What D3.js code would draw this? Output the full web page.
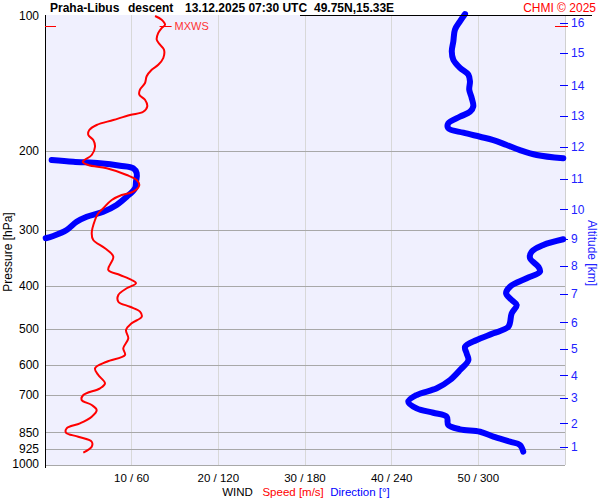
<!DOCTYPE html>
<html><head><meta charset="utf-8">
<script src="https://cdn.jsdelivr.net/npm/d3@7"></script>
<style>body{margin:0;background:#fff}svg{display:block;font-family:"Liberation Sans",Arial,sans-serif}</style>
</head><body><svg id="c" width="600" height="500"></svg>
<script>
// ---- data ----
const titleParts = ["Praha-Libus", "descent", "13.12.2025 07:30 UTC", "49.75N,15.33E"];
const credit = "CHMI \u00a9 2025";
const pressureTicks = [100, 200, 300, 400, 500, 600, 700, 850, 925, 1000];
const speedTicks = [10, 20, 30, 40, 50];
const directionTicks = [60, 120, 180, 240, 300];
const altitudeKm = [1, 2, 3, 4, 5, 6, 7, 8, 9, 10, 11, 12, 13, 14, 15, 16];
const altitudePressure = [917.6, 811.4, 713.4, 633.9, 553.9, 482.8, 418.0, 361.4, 314.6, 270.1, 231.1, 196.1, 167.4, 142.8, 121.1, 103.5];
const mxwsPressure = 105.3;
const mxwsSpeed = 13.8;
// wind speed profile (hPa, m/s)
const speedPressure = [100, 101.9, 104.6, 106.4, 109.1, 112.9, 115.9, 118.9, 124.1, 128.5, 131.8, 136.3, 141.1, 146.0, 149.8, 153.8, 159.1, 163.6, 166.3, 170.7, 175.1, 179.7, 184.4, 189.2, 195.8, 204.3, 211.5, 215.1, 218.8, 226.4, 232.3, 238.4, 246.7, 250.9, 257.4, 268.6, 275.6, 285.3, 305.5, 316.2, 330.0, 344.5, 368.9, 378.5, 388.4, 395.0, 405.3, 419.5, 434.2, 445.6, 457.1, 469.1, 485.3, 502.3, 524.2, 551.8, 571.2, 591.2, 611.6, 632.9, 660.6, 677.7, 701.5, 719.7, 738.5, 757.8, 784.2, 811.4, 832.5, 851.5, 869.0, 891.8, 914.9, 943.6];
const speedValues = [12.7, 13.46, 13.85, 13.46, 13.07, 12.89, 13.27, 13.73, 13.65, 13.07, 12.31, 11.73, 11.54, 10.96, 10.88, 11.54, 11.8, 11.34, 9.81, 7.88, 5.96, 5.11, 5.0, 5.57, 5.77, 5.39, 4.35, 5.0, 7.12, 9.43, 10.58, 10.88, 10.19, 8.85, 7.7, 6.73, 6.15, 5.77, 5.39, 5.57, 6.92, 7.88, 7.3, 8.65, 10.0, 10.5, 9.43, 8.46, 8.46, 9.81, 10.96, 11.16, 10.0, 9.35, 9.61, 9.03, 9.23, 7.12, 5.77, 6.15, 6.92, 6.35, 4.42, 4.23, 5.39, 5.96, 5.39, 4.04, 2.5, 2.42, 3.84, 5.39, 5.39, 4.42];
// wind direction profile (hPa, degrees)
const dirPressure = [99, 102.8, 107.3, 113.9, 119.9, 125.2, 130.6, 135.2, 139.9, 146.0, 152.4, 159.1, 163.6, 167.8, 173.6, 178.1, 182.2, 186.0, 189.2, 194.1, 199.2, 204.3, 207.8, 209.6, 211.5, 213.2, 215.9, 218.8, 224.4, 234.4, 242.5, 253.1, 264.1, 273.4, 280.5, 287.9, 300.4, 309.8, 313.4, 315.0, 324.4, 335.8, 347.4, 362.7, 372.2, 385.0, 402.0, 415.9, 430.5, 441.7, 460.9, 493.8, 510.9, 528.7, 547.3, 566.3, 586.1, 617.0, 649.4, 677.7, 701.5, 726.1, 751.2, 768.4, 784.2, 818.4, 836.7, 847.2, 869.0, 891.8, 907.0, 938.6];
const dirValues = [290.8, 287.3, 283.8, 282.7, 281.6, 282.7, 287.3, 293.1, 294.2, 293.7, 295.4, 296.5, 294.2, 287.3, 279.2, 279.2, 289.6, 301.2, 310.4, 319.6, 328.8, 340.4, 358.8, 4.6, 19.6, 38.1, 51.9, 61.1, 63.5, 63.0, 62.3, 56.6, 49.6, 40.4, 28.9, 21.9, 15.0, 5.7, 0.5, 358.8, 345.0, 336.9, 335.8, 341.5, 342.7, 333.5, 321.9, 319.2, 323.1, 326.6, 323.1, 320.8, 310.4, 298.9, 290.8, 291.9, 293.1, 287.3, 280.4, 271.2, 257.3, 251.5, 257.3, 268.8, 278.1, 279.2, 287.3, 301.2, 310.4, 321.9, 328.8, 331.1];

// ---- layout ----
const svg = d3.select("#c");
const L = 45, R = 565, T = 15, B = 465;
const y = d3.scaleLog().domain([100, 1000]).range([16, 464]);
const xs = d3.scaleLinear().domain([0, 60]).range([L, R]);
const xd = d3.scaleLinear().domain([0, 360]).range([L, R]);

svg.append("rect").attr("x", L).attr("y", T).attr("width", R - L).attr("height", B - T).attr("fill", "#f0f0fe");

// vertical grid
svg.selectAll(".vg").data(speedTicks).join("line")
  .attr("x1", d => xs(d)).attr("x2", d => xs(d)).attr("y1", T).attr("y2", B)
  .attr("stroke", "#d8d8d8").attr("stroke-width", 1).attr("shape-rendering", "crispEdges");
svg.append("line").attr("x1", R).attr("x2", R).attr("y1", T).attr("y2", B)
  .attr("stroke", "#d0d0d0").attr("shape-rendering", "crispEdges");

// horizontal pressure grid
svg.selectAll(".hg").data(pressureTicks.filter(p => p > 100 && p < 1000)).join("line")
  .attr("x1", L).attr("x2", R).attr("y1", d => Math.round(y(d)) + 0.5).attr("y2", d => Math.round(y(d)) + 0.5)
  .attr("stroke", "#a8a8a8").attr("stroke-width", 1);
svg.append("line").attr("x1", L).attr("x2", R).attr("y1", B + 0.5).attr("y2", B + 0.5).attr("stroke", "#a8a8a8");

// pressure labels
svg.selectAll(".pl").data(pressureTicks).join("text")
  .attr("x", 39).attr("y", d => y(d)).attr("dy", "0.35em").attr("text-anchor", "end")
  .attr("font-size", 12).attr("fill", "#000").text(d => d);
svg.append("text").attr("transform", "translate(12,252) rotate(-90)").attr("text-anchor", "middle")
  .attr("font-size", 12).text("Pressure [hPa]");

// bottom labels
svg.selectAll(".bl").data(speedTicks).join("text")
  .attr("x", d => xs(d)).attr("y", 482).attr("text-anchor", "middle").attr("font-size", 11.5)
  .text((d, i) => d + " / " + directionTicks[i]);
const leg = svg.append("text").attr("x", 306).attr("y", 496).attr("text-anchor", "middle").attr("font-size", 11.5).style("white-space", "pre");
leg.append("tspan").attr("fill", "#000").text("WIND   ");
leg.append("tspan").attr("fill", "#ff0000").text("Speed [m/s]  ");
leg.append("tspan").attr("fill", "#0000ff").text("Direction [\u00b0]");

// altitude axis
svg.selectAll(".at").data(altitudePressure).join("line")
  .attr("x1", 560).attr("x2", 568).attr("y1", d => Math.round(y(d)) + 0.5).attr("y2", d => Math.round(y(d)) + 0.5)
  .attr("stroke", "#0000ff");
svg.selectAll(".al").data(altitudePressure).join("text")
  .attr("x", 571).attr("y", d => y(d)).attr("dy", "0.35em").attr("font-size", 12).attr("fill", "#2222ff")
  .text((d, i) => altitudeKm[i]);
svg.append("text").attr("transform", "translate(588,253) rotate(90)").attr("text-anchor", "middle")
  .attr("font-size", 12).attr("fill", "#2222ff").text("Altitude [km]");

// left axis
svg.append("line").attr("x1", L + 0.5).attr("x2", L + 0.5).attr("y1", T).attr("y2", B + 3).attr("stroke", "#000");

// direction line (split at wrap-around)
const dirPts = dirPressure.map((p, i) => [dirValues[i], p]);
const segs = [[dirPts[0]]];
for (let i = 1; i < dirPts.length; i++) {
  if (Math.abs(dirPts[i][0] - dirPts[i - 1][0]) > 180) segs.push([]);
  segs[segs.length - 1].push(dirPts[i]);
}
const dline = d3.line().x(d => xd(d[0])).y(d => y(d[1])).curve(d3.curveCatmullRom);
svg.selectAll(".dir").data(segs).join("path").attr("d", dline)
  .attr("fill", "none").attr("stroke", "#0000ff").attr("stroke-width", 6)
  .attr("stroke-linecap", "round").attr("stroke-linejoin", "round");

// speed line
const sline = d3.line().x(d => xs(d[0])).y(d => y(d[1])).curve(d3.curveCatmullRom);
svg.append("path").datum(speedPressure.map((p, i) => [speedValues[i], p])).attr("d", sline)
  .attr("fill", "none").attr("stroke", "#ff0000").attr("stroke-width", 2);

// MXWS markers
const my = Math.round(y(mxwsPressure)) + 0.5;
svg.append("line").attr("x1", L).attr("x2", L + 11).attr("y1", my).attr("y2", my).attr("stroke", "#ff0000");
svg.append("line").attr("x1", 555).attr("x2", 568).attr("y1", my).attr("y2", my).attr("stroke", "#ff0000");
svg.append("line").attr("x1", xs(mxwsSpeed) - 5).attr("x2", xs(mxwsSpeed) + 7).attr("y1", my).attr("y2", my).attr("stroke", "#ff0000");
svg.append("text").attr("x", xs(mxwsSpeed) + 10).attr("y", my).attr("dy", "0.35em").attr("font-size", 11)
  .attr("fill", "#ff3333").text("MXWS");

// header
svg.append("line").attr("x1", 300).attr("x2", 592).attr("y1", 15.5).attr("y2", 15.5).attr("stroke", "#000");
const tx = [50, 128, 185, 314];
svg.selectAll(".tt").data(titleParts).join("text")
  .attr("x", (d, i) => tx[i]).attr("y", 12).attr("font-size", 12).attr("font-weight", "bold").text(d => d);
svg.append("text").attr("x", 596).attr("y", 12).attr("text-anchor", "end").attr("font-size", 12)
  .attr("fill", "#ff0000").text(credit);
</script></body></html>
